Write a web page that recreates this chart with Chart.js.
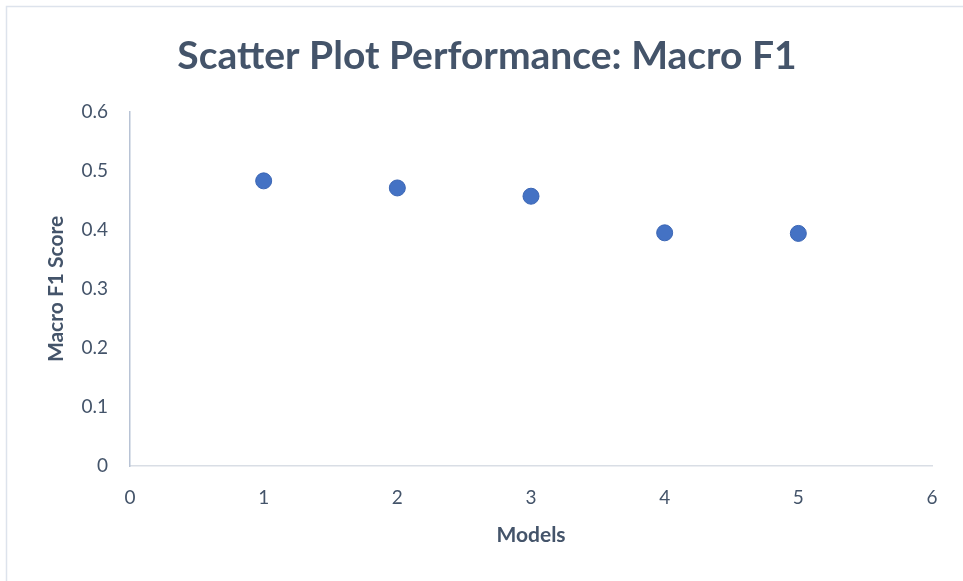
<!DOCTYPE html>
<html>
<head>
<meta charset="utf-8">
<script src="https://cdn.jsdelivr.net/npm/chart.js@4/dist/chart.umd.min.js"></script>
<style>
  html, body { margin: 0; padding: 0; background: #ffffff; }
  #wrap { width: 963px; height: 581px; position: relative; }
</style>
</head>
<body>
<div id="wrap"><canvas id="c" width="963" height="581"></canvas></div>
<script>
const models = [1, 2, 3, 4, 5];
const macroF1 = [0.483, 0.471, 0.457, 0.395, 0.394];
const xTicks = [0, 1, 2, 3, 4, 5, 6];
const yTicks = [0, 0.1, 0.2, 0.3, 0.4, 0.5, 0.6];

const textColor = '#44546A';
const fontFamily = 'Lato, "Open Sans", sans-serif';

const frame = {
  id: 'frame',
  beforeDraw(chart) {
    const ctx = chart.ctx;
    ctx.save();
    ctx.fillStyle = '#ffffff';
    ctx.fillRect(0, 0, chart.width, chart.height);
    ctx.strokeStyle = '#DDE3EC';
    ctx.lineWidth = 1.5;
    ctx.beginPath();
    ctx.moveTo(6.5, chart.height);
    ctx.lineTo(6.5, 6.5);
    ctx.lineTo(chart.width, 6.5);
    ctx.stroke();
    ctx.restore();
  }
};

new Chart(document.getElementById('c'), {
  type: 'scatter',
  data: {
    datasets: [{
      label: 'Macro F1',
      data: models.map((m, i) => ({ x: m, y: macroF1[i] })),
      backgroundColor: '#4472C4',
      borderColor: '#3B66B5',
      borderWidth: 1,
      pointRadius: 8,
      pointHoverRadius: 8
    }]
  },
  options: {
    responsive: false,
    animation: false,
    devicePixelRatio: 1,
    layout: { padding: { left: 11, right: 0, top: 0, bottom: 0 } },
    plugins: {
      legend: { display: false },
      tooltip: { enabled: false },
      title: {
        display: true,
        text: 'Scatter Plot Performance: Macro F1',
        color: textColor,
        font: { family: fontFamily, size: 39, weight: 'bold', lineHeight: 1.2 },
        padding: { top: 33, bottom: 32 }
      }
    },
    scales: {
      x: {
        type: 'linear',
        min: 0, max: 6,
        afterBuildTicks(scale) { scale.ticks = xTicks.map(v => ({ value: v })); },
        afterFit(scale) { scale.height = 115; },
        ticks: {
          color: textColor,
          font: { family: fontFamily, size: 19 },
          padding: 20,
          callback: v => String(v)
        },
        grid: { display: false, drawTicks: false },
        border: { display: true, color: '#D9DEE5', width: 1.5 },
        title: {
          display: true,
          text: 'Models',
          color: textColor,
          font: { family: fontFamily, size: 21, weight: 'bold', lineHeight: 1.2 },
          padding: { top: 0, bottom: 33 }
        }
      },
      y: {
        type: 'linear',
        min: 0, max: 0.6,
        afterBuildTicks(scale) { scale.ticks = yTicks.map(v => ({ value: v })); },
        afterFit(scale) { scale.width = 119; },
        ticks: {
          color: textColor,
          font: { family: fontFamily, size: 19 },
          padding: 22,
          callback: v => String(Math.round(v * 10) / 10)
        },
        grid: { display: false, drawTicks: false },
        border: { display: true, color: '#B8C3D5', width: 1.5 },
        title: {
          display: true,
          text: 'Macro F1 Score',
          color: textColor,
          font: { family: fontFamily, size: 21, weight: 'bold', lineHeight: 1.2 },
          padding: { top: 33, bottom: 0 }
        }
      },
      yRightSpacer: {
        type: 'linear',
        position: 'right',
        min: 0, max: 0.6,
        afterFit(scale) { scale.width = 31; },
        ticks: { display: false },
        grid: { display: false, drawTicks: false },
        border: { display: false },
        title: { display: false }
      }
    }
  },
  plugins: [frame]
});
</script>
</body>
</html>
